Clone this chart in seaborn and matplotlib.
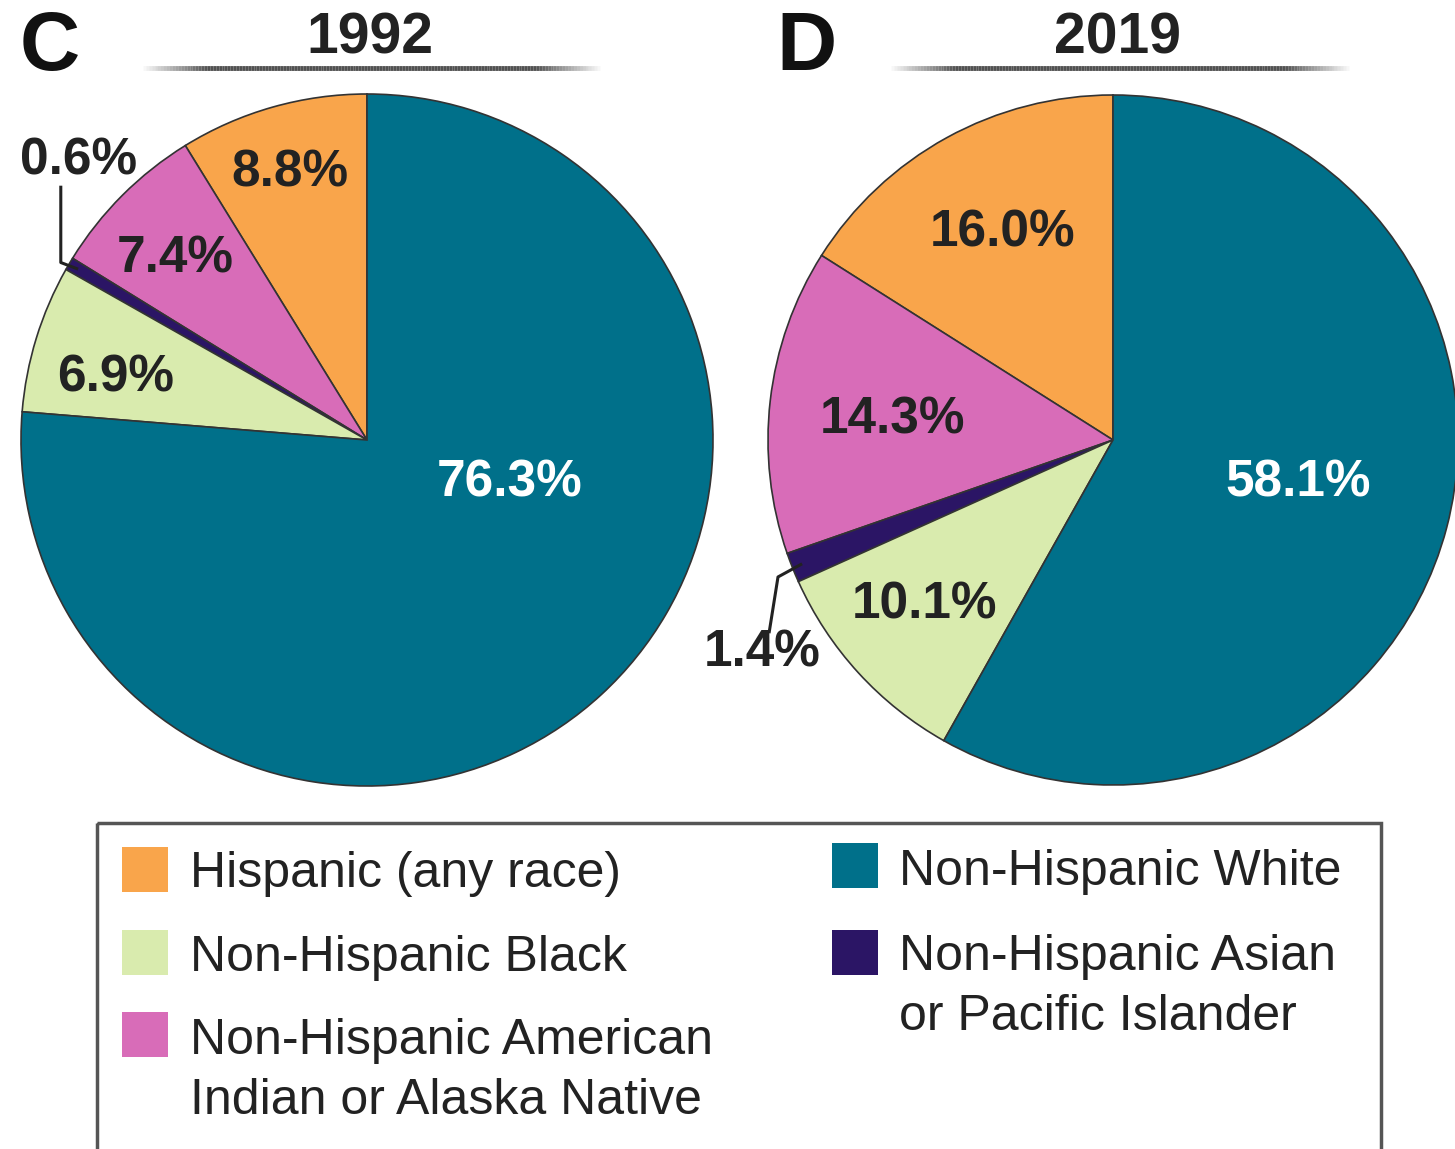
import numpy as np
import seaborn as sns
import matplotlib
matplotlib.use("Agg")
import matplotlib.pyplot as plt
from matplotlib.collections import LineCollection
from matplotlib.patches import Rectangle

# ------------------------------------------------------------
# data
# ------------------------------------------------------------
groups = ["Hispanic (any race)",
          "Non-Hispanic American\nIndian or Alaska Native",
          "Non-Hispanic Asian\nor Pacific Islander",
          "Non-Hispanic Black",
          "Non-Hispanic White"]
share_1992 = [8.8, 7.4, 0.6, 6.9, 76.3]
share_2019 = [16.0, 14.3, 1.4, 10.1, 58.1]
years = ["1992", "2019"]
panels = ["C", "D"]

group_colors = sns.color_palette(["#F9A54B", "#D86CB8", "#2B1565", "#D9EBAE", "#00708A"])
text_colors = ["#222222", "#222222", "#222222", "#222222", "white"]

# label placement in pie units (x, y); the small slice gets an outside label
label_pos_1992 = [(-0.222, 0.772), (-0.553, 0.524), (-0.833, 0.807), (-0.726, 0.179), (0.412, -0.124)]
label_pos_2019 = [(-0.319, 0.600), (-0.638, 0.058), (-1.017, -0.617), (-0.545, -0.478), (0.536, -0.125)]
leader_1992 = [(-0.885, 0.735), (-0.885, 0.513)]
leader_2019 = [(-0.997, -0.560), (-0.971, -0.397)]

# legend order: column 1 then column 2
legend_order = [[0, 3, 1], [4, 2]]

sns.set_theme(style="white")
plt.rcParams["font.family"] = ["Liberation Sans", "DejaVu Sans"]

W, H = 1455, 1149
fig = plt.figure(figsize=(W / 100, H / 100), dpi=100)

# pixel canvas for titles, rules and the legend box
canvas = fig.add_axes([0, 0, 1, 1])
canvas.set_xlim(0, W)
canvas.set_ylim(H, 0)
canvas.axis("off")
canvas.patch.set_alpha(0)


def fade_rule(ax, x0, x1, y):
    xs = np.linspace(x0, x1, 160)
    segs = [[(xs[i], y), (xs[i + 1], y)] for i in range(len(xs) - 1)]
    t = np.linspace(0, 1, len(segs))
    alpha = np.clip(np.minimum(t, 1 - t) * 7, 0, 1) * 0.85
    cols = [(0.2, 0.2, 0.2, a) for a in alpha]
    ax.add_collection(LineCollection(segs, colors=cols, linewidths=3.5))


# panel letters, years and the rules under the years
for letter, year, lx, yx, rx0, rx1 in zip(panels, years, [50, 807], [370, 1117], [140, 888], [603, 1352]):
    canvas.text(lx, 48, letter, fontsize=60, fontweight="bold", ha="center", va="center", color="#111111")
    canvas.text(yx, 38, year, fontsize=41, fontweight="bold", ha="center", va="center", color="#222222")
    fade_rule(canvas, rx0, rx1, 68)

# ------------------------------------------------------------
# the two pies
# ------------------------------------------------------------
pie_boxes = [(21, 94, 692), (768, 95, 690)]
pie_data = [share_1992, share_2019]
pie_labels = [label_pos_1992, label_pos_2019]
pie_leaders = [leader_1992, leader_2019]

for (px, py, size), vals, lpos, leader in zip(pie_boxes, pie_data, pie_labels, pie_leaders):
    ax = fig.add_axes([px / W, 1 - (py + size) / H, size / W, size / H])
    wedges, _ = ax.pie(vals, colors=group_colors, startangle=90, counterclock=True,
                       radius=1.0,
                       wedgeprops=dict(edgecolor="#333333", linewidth=1.2, clip_on=False))
    ax.set_xlim(-1, 1)
    ax.set_ylim(-1, 1)
    ax.set_aspect("auto")
    ax.axis("off")
    ax.patch.set_alpha(0)

    for val, (tx, ty), tc in zip(vals, lpos, text_colors):
        ax.text(tx, ty, f"{val:.1f}%", fontsize=37, fontweight="bold",
                ha="center", va="center", color=tc, clip_on=False)

    # leader line from the outside label to the thin slice
    w = wedges[2]
    mid = np.deg2rad((w.theta1 + w.theta2) / 2)
    anchor = (0.97 * np.cos(mid), 0.97 * np.sin(mid))
    xs = [p[0] for p in leader] + [anchor[0]]
    ys = [p[1] for p in leader] + [anchor[1]]
    ax.plot(xs, ys, color="#222222", lw=2.2, clip_on=False, solid_capstyle="butt")

# ------------------------------------------------------------
# legend box (bottom edge runs off the image)
# ------------------------------------------------------------
canvas.add_patch(Rectangle((97, 823), 1381 - 97, 1170 - 823, fill=False,
                           edgecolor="#555555", linewidth=2.5))

col_handle_x = [122, 832]
col_text_x = [190, 899]
row_base = [[887, 971, 1054], [885, 970]]
row_box_top = [[847, 930, 1012], [843, 930]]

for c, order in enumerate(legend_order):
    for r, gi in enumerate(order):
        canvas.add_patch(Rectangle((col_handle_x[c], row_box_top[c][r]), 46, 45,
                                   facecolor=group_colors[gi], edgecolor="none"))
        for k, line in enumerate(groups[gi].split("\n")):
            canvas.text(col_text_x[c], row_base[c][r] + 60 * k, line, fontsize=36,
                        ha="left", va="baseline", color="#222222")

fig.savefig("out.png", dpi=100)
